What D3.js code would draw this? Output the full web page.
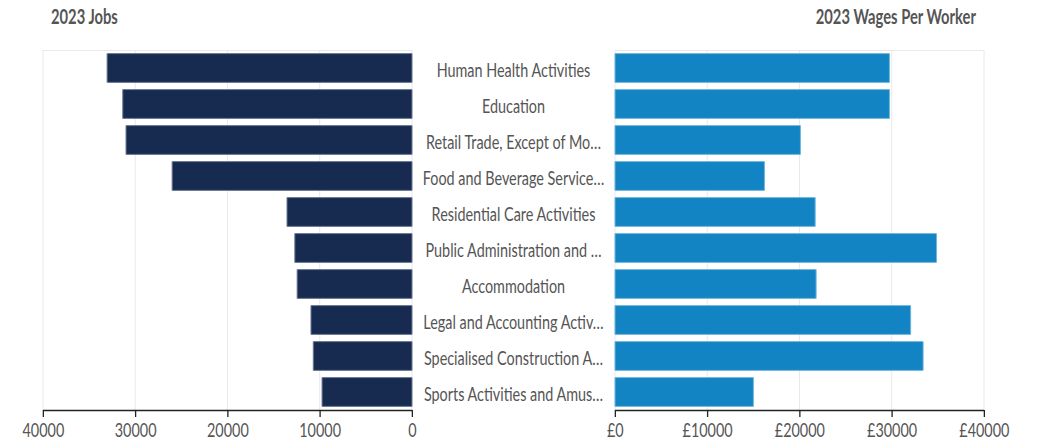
<!DOCTYPE html>
<html>
<head>
  <script src="https://cdnjs.cloudflare.com/ajax/libs/d3/7.8.5/d3.min.js"></script>
  <style>
    body { margin: 0; background: #fff; }
    text { font-family: Lato, "Open Sans", sans-serif; }
  </style>
</head>
<body>
  <script>
    // data
    var categories = [
      "Human Health Activities",
      "Education",
      "Retail Trade, Except of Mo\u2026",
      "Food and Beverage Service\u2026",
      "Residential Care Activities",
      "Public Administration and \u2026",
      "Accommodation",
      "Legal and Accounting Activ\u2026",
      "Specialised Construction A\u2026",
      "Sports Activities and Amus\u2026"
    ];
    var jobs = [33050, 31350, 31000, 26000, 13550, 12700, 12450, 10950, 10700, 9750];
    var wages = [29750, 29750, 20100, 16200, 21700, 34850, 21800, 32050, 33400, 15000];
    var tickValues = [0, 10000, 20000, 30000, 40000];

    var width = 1040, height = 444;
    // the reference text is horizontally condensed, so lay out in a wider space
    var SX = 0.72;
    var vx = function(px) { return px / SX; };

    var svg = d3.select("body")
      .append("svg")
      .attr("width", width)
      .attr("height", height);

    var root = svg.append("g").attr("transform", "scale(" + SX + ",1)");

    var plotTop = 50, plotBottom = 410;

    var y = d3.scaleBand()
      .domain(categories)
      .range([plotTop, plotBottom])
      .paddingInner(0.2)
      .paddingOuter(0.1);

    var xL = d3.scaleLinear().domain([0, 40000]).range([vx(412), vx(43)]);
    var xR = d3.scaleLinear().domain([0, 40000]).range([vx(615), vx(984)]);

    function panel(x, values, fill, stroke, fmt) {
      var g = root.append("g");
      var r = x.range();
      var x0 = Math.min(r[0], r[1]), x1 = Math.max(r[0], r[1]);

      // grid + frame
      g.append("g").selectAll("line")
        .data(tickValues)
        .enter().append("line")
        .attr("x1", d => x(d)).attr("x2", d => x(d))
        .attr("y1", plotTop).attr("y2", plotBottom)
        .attr("stroke", "#e9e9e9")
        .attr("vector-effect", "non-scaling-stroke");
      g.append("line")
        .attr("x1", x0).attr("x2", x1)
        .attr("y1", plotTop + 0.5).attr("y2", plotTop + 0.5)
        .attr("stroke", "#e9e9e9")
        .attr("vector-effect", "non-scaling-stroke");

      g.append("g").selectAll("rect")
        .data(values)
        .enter().append("rect")
        .attr("x", d => Math.min(x(0), x(d)))
        .attr("width", d => Math.abs(x(d) - x(0)))
        .attr("y", (d, i) => y(categories[i]))
        .attr("height", y.bandwidth())
        .attr("fill", fill)
        .attr("stroke", stroke)
        .attr("stroke-width", 1)
        .attr("vector-effect", "non-scaling-stroke");

      var ax = g.append("g")
        .attr("transform", "translate(0," + plotBottom + ")")
        .call(d3.axisBottom(x).tickValues(tickValues).tickFormat(fmt).tickSize(7).tickSizeOuter(0).tickPadding(6));
      ax.selectAll("path, line")
        .attr("stroke", "#222")
        .attr("stroke-width", 1.3)
        .attr("vector-effect", "non-scaling-stroke");
      ax.selectAll("text")
        .attr("fill", "#555")
        .style("font-size", "20px");
      ax.select(".domain").attr("d", "M" + x0 + ",0.5H" + x1);
    }

    panel(xL, jobs, "#172a50", "#6b7894", d => d3.format("d")(d));
    panel(xR, wages, "#1283c3", "#6fb6de", d => "\u00a3" + d);

    // category labels in the middle
    root.append("g").selectAll("text")
      .data(categories)
      .enter().append("text")
      .attr("x", vx(513.5))
      .attr("y", d => y(d) + y.bandwidth() / 2 + 1.5)
      .attr("text-anchor", "middle")
      .attr("dominant-baseline", "central")
      .style("font-size", "20px")
      .style("fill", "#555")
      .text(d => d);

    // titles
    root.append("text")
      .attr("x", vx(51))
      .attr("y", 24)
      .style("font-size", "20.5px")
      .style("font-weight", "bold")
      .style("fill", "#555")
      .text("2023 Jobs");

    root.append("text")
      .attr("x", vx(976))
      .attr("y", 24)
      .attr("text-anchor", "end")
      .style("font-size", "20.5px")
      .style("font-weight", "bold")
      .style("fill", "#555")
      .text("2023 Wages Per Worker");
  </script>
</body>
</html>
